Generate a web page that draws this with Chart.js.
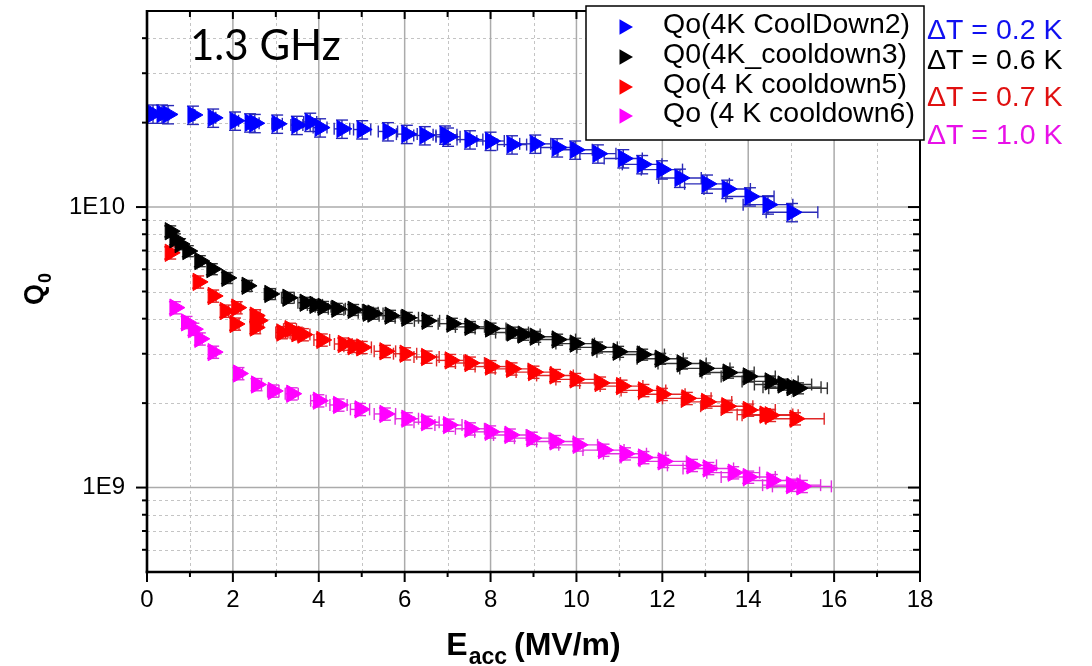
<!DOCTYPE html>
<html>
<head>
<meta charset="utf-8">
<script src="https://cdn.jsdelivr.net/npm/chart.js@4.4.1/dist/chart.umd.min.js"></script>
<style>
  html, body { margin: 0; padding: 0; background: #ffffff; }
  #wrap { width: 1092px; height: 666px; position: relative; }
  canvas { display: block; }
</style>
</head>
<body>
<div id="wrap"><canvas id="c" width="1092" height="666"></canvas></div>
<script>
// ---------------- DATA ----------------
const seriesNames = ['Qo(4K CoolDown2)', 'Q0(4K_cooldown3)', 'Qo(4 K cooldown5)', 'Qo (4 K cooldown6)'];
const deltaTLabels = ['\u0394T = 0.2 K', '\u0394T = 0.6 K', '\u0394T = 0.7 K', '\u0394T = 1.0 K'];
const seriesColors = ['#0000ff', '#000000', '#ff0000', '#ff00ff'];
const deltaTColors = ['#1010f0', '#000000', '#e01010', '#e810e8'];
const errColors = ['#2a2ab8', '#333333', '#e02828', '#e030e0'];

// CoolDown2 (blue)
const cd2E = [0.14, 0.35, 0.49, 1.07, 1.54, 2.05, 2.40, 2.51, 3.03, 3.49, 3.80, 4.03, 4.54, 5.01, 5.61, 6.05, 6.47, 6.94, 7.01, 7.52, 8.00, 8.50, 9.04, 9.55, 9.97, 10.50, 11.09, 11.53, 11.99, 12.41, 13.04, 13.51, 14.04, 14.46, 15.02];
const cd2Q = [2.15e10, 2.15e10, 2.14e10, 2.13e10, 2.08e10, 2.03e10, 2.00e10, 1.99e10, 1.98e10, 1.96e10, 2.01e10, 1.92e10, 1.90e10, 1.89e10, 1.86e10, 1.82e10, 1.80e10, 1.81e10, 1.78e10, 1.74e10, 1.72e10, 1.67e10, 1.68e10, 1.63e10, 1.60e10, 1.55e10, 1.49e10, 1.42e10, 1.36e10, 1.27e10, 1.21e10, 1.16e10, 1.09e10, 1.02e10, 9.58e9];

// cooldown3 (black)
const cd3E = [0.54, 0.65, 0.77, 0.95, 1.23, 1.51, 1.86, 2.33, 2.86, 3.28, 3.68, 3.91, 4.10, 4.42, 4.80, 5.15, 5.26, 5.66, 6.05, 6.52, 7.10, 7.52, 8.00, 8.50, 8.76, 9.04, 9.55, 9.97, 10.48, 10.97, 11.53, 11.95, 12.46, 12.99, 13.53, 14.00, 14.51, 14.81, 15.02, 15.16];
const cd3Q = [8.2e9, 7.68e9, 7.38e9, 6.97e9, 6.42e9, 6.01e9, 5.59e9, 5.24e9, 4.90e9, 4.75e9, 4.56e9, 4.48e9, 4.41e9, 4.34e9, 4.30e9, 4.20e9, 4.17e9, 4.10e9, 4.03e9, 3.93e9, 3.84e9, 3.74e9, 3.69e9, 3.57e9, 3.51e9, 3.45e9, 3.37e9, 3.26e9, 3.16e9, 3.05e9, 2.98e9, 2.88e9, 2.77e9, 2.66e9, 2.57e9, 2.49e9, 2.39e9, 2.33e9, 2.28e9, 2.26e9];

// cooldown5 (red)
const cd5E = [0.54, 1.19, 1.54, 1.82, 2.09, 2.05, 2.52, 2.52, 2.59, 3.14, 3.33, 3.49, 3.63, 4.07, 4.57, 4.80, 5.00, 5.54, 6.01, 6.51, 7.06, 7.52, 8.00, 8.49, 9.00, 9.50, 9.97, 10.55, 11.05, 11.56, 11.99, 12.57, 13.03, 13.50, 14.00, 14.39, 14.51, 15.09];
const cd5Q = [6.87e9, 5.41e9, 4.82e9, 4.26e9, 4.38e9, 3.83e9, 4.10e9, 3.72e9, 3.94e9, 3.57e9, 3.67e9, 3.55e9, 3.51e9, 3.36e9, 3.25e9, 3.19e9, 3.16e9, 3.06e9, 3.00e9, 2.92e9, 2.84e9, 2.78e9, 2.70e9, 2.65e9, 2.58e9, 2.51e9, 2.43e9, 2.36e9, 2.30e9, 2.22e9, 2.15e9, 2.08e9, 2.02e9, 1.95e9, 1.89e9, 1.82e9, 1.81e9, 1.76e9];

// cooldown6 (magenta)
const cd6E = [0.65, 0.92, 1.08, 1.23, 1.54, 2.13, 2.55, 2.94, 3.37, 3.99, 4.46, 4.96, 5.54, 6.05, 6.51, 7.02, 7.52, 7.99, 8.45, 8.96, 9.50, 10.04, 10.63, 11.13, 11.56, 12.02, 12.69, 13.07, 13.65, 14.00, 14.55, 15.01, 15.25];
const cd6Q = [4.38e9, 3.88e9, 3.67e9, 3.39e9, 3.04e9, 2.55e9, 2.33e9, 2.21e9, 2.16e9, 2.04e9, 1.97e9, 1.90e9, 1.83e9, 1.76e9, 1.71e9, 1.67e9, 1.62e9, 1.58e9, 1.54e9, 1.50e9, 1.46e9, 1.42e9, 1.36e9, 1.32e9, 1.28e9, 1.24e9, 1.20e9, 1.17e9, 1.13e9, 1.09e9, 1.06e9, 1.02e9, 1.01e9];

// relative error bar sizes (Q and E) per series
const qErrFrac = [0.075, 0.045, 0.05, 0.05];
const eErrFrac = [0.04, 0.045, 0.045, 0.045];

// axis ticks
const xMajorTicks = [0, 2, 4, 6, 8, 10, 12, 14, 16, 18];
const xMinorTicks = [1, 3, 5, 7, 9, 11, 13, 15, 17];
const yMajorTicks = [1e9, 1e10];
const yTickLabels = ['1E9', '1E10'];
const yMinorTicks = [6e8, 7e8, 8e8, 9e8, 2e9, 3e9, 4e9, 5e9, 6e9, 7e9, 8e9, 9e9, 2e10, 3e10, 4e10];

const annotationText = '1.3 GHz';
const xTitleMain = 'E', xTitleSub = 'acc', xTitleUnit = '(MV/m)';
const yTitleMain = 'Q', yTitleSub = '0';

// ---------------- CHART ----------------
const seriesE = [cd2E, cd3E, cd5E, cd6E];
const seriesQ = [cd2Q, cd3Q, cd5Q, cd6Q];
const SANS = '"Liberation Sans", Arial, sans-serif';

const datasets = seriesNames.map((name, i) => ({
  label: name,
  data: seriesE[i].map((e, j) => ({ x: e, y: seriesQ[i][j] })),
  pointStyle: 'triangle',
  rotation: 90,
  radius: 10,
  hoverRadius: 10,
  backgroundColor: seriesColors[i],
  borderColor: seriesColors[i],
  borderWidth: 1,
  showLine: false
}));

function line(ctx, x1, y1, x2, y2) {
  ctx.beginPath(); ctx.moveTo(x1, y1); ctx.lineTo(x2, y2); ctx.stroke();
}
function triRight(ctx, cx, cy, r, color) {
  ctx.beginPath();
  ctx.moveTo(cx + r, cy);
  ctx.lineTo(cx - r / 2, cy - r * 0.866);
  ctx.lineTo(cx - r / 2, cy + r * 0.866);
  ctx.closePath();
  ctx.fillStyle = color; ctx.fill();
}

const decor = {
  id: 'decor',
  beforeDatasetsDraw(chart) {
    const { ctx, chartArea: a, scales: { x, y } } = chart;
    ctx.save();
    // minor grid (dashed)
    ctx.strokeStyle = '#c4c4c4'; ctx.lineWidth = 1; ctx.setLineDash([3, 3]);
    xMinorTicks.forEach(v => { const p = Math.round(x.getPixelForValue(v)) + 0.5; line(ctx, p, a.top, p, a.bottom); });
    yMinorTicks.forEach(v => { const p = Math.round(y.getPixelForValue(v)) + 0.5; line(ctx, a.left, p, a.right, p); });
    // major grid (solid)
    ctx.setLineDash([]); ctx.strokeStyle = '#ababab'; ctx.lineWidth = 1.5;
    xMajorTicks.forEach(v => { const p = x.getPixelForValue(v); line(ctx, p, a.top, p, a.bottom); });
    yMajorTicks.forEach(v => { const p = y.getPixelForValue(v); line(ctx, a.left, p, a.right, p); });
    // error bars
    ctx.lineWidth = 1.4;
    seriesNames.forEach((n, i) => {
      ctx.strokeStyle = errColors[i];
      seriesE[i].forEach((e, j) => {
        const q = seriesQ[i][j];
        const px = x.getPixelForValue(e), py = y.getPixelForValue(q);
        const yt = y.getPixelForValue(q * (1 + qErrFrac[i])), yb = y.getPixelForValue(q * (1 - qErrFrac[i]));
        const xl = x.getPixelForValue(e * (1 - eErrFrac[i])), xr = x.getPixelForValue(e * (1 + eErrFrac[i]));
        line(ctx, px, yt, px, yb);
        line(ctx, px - 6, yt, px + 6, yt);
        line(ctx, px - 6, yb, px + 6, yb);
        line(ctx, xl, py, xr, py);
        line(ctx, xl, py - 6, xl, py + 6);
        line(ctx, xr, py - 6, xr, py + 6);
      });
    });
    ctx.restore();
  },
  afterDraw(chart) {
    const { ctx, chartArea: a, scales: { x, y } } = chart;
    ctx.save();
    ctx.strokeStyle = '#000'; ctx.setLineDash([]);
    // tick marks
    ctx.lineWidth = 2;
    xMajorTicks.forEach(v => { const p = x.getPixelForValue(v); line(ctx, p, a.bottom, p, a.bottom + 10); line(ctx, p, a.top, p, a.top + 8); });
    xMinorTicks.forEach(v => { const p = x.getPixelForValue(v); line(ctx, p, a.bottom, p, a.bottom + 5); line(ctx, p, a.top, p, a.top + 6); });
    yMajorTicks.forEach(v => { const p = y.getPixelForValue(v); line(ctx, a.left - 11, p, a.left, p); line(ctx, a.right - 12, p, a.right, p); });
    yMinorTicks.forEach(v => { const p = y.getPixelForValue(v); line(ctx, a.left - 5, p, a.left, p); line(ctx, a.right - 7, p, a.right, p); });
    // axis frame
    ctx.lineWidth = 2; line(ctx, a.left, a.top, a.right, a.top); line(ctx, a.right, a.top, a.right, a.bottom);
    ctx.lineWidth = 2.6; line(ctx, a.left, a.top - 1, a.left, a.bottom + 1.3); line(ctx, a.left - 1.3, a.bottom, a.right + 1, a.bottom);

    // annotation
    ctx.fillStyle = '#000'; ctx.textAlign = 'left'; ctx.textBaseline = 'alphabetic';
    ctx.font = '42px Lato, "Open Sans", sans-serif';
    ctx.fillText(annotationText, 190, 60);

    // x title
    ctx.font = 'bold 32px ' + SANS;
    const wE = ctx.measureText(xTitleMain).width, wU = ctx.measureText(xTitleUnit).width;
    ctx.font = 'bold 23px ' + SANS;
    const wS = ctx.measureText(xTitleSub).width;
    const total = wE + 1 + wS + 7 + wU;
    let tx = (a.left + a.right) / 2 - total / 2;
    ctx.font = 'bold 32px ' + SANS; ctx.fillText(xTitleMain, tx, 655); tx += wE + 1;
    ctx.font = 'bold 23px ' + SANS; ctx.fillText(xTitleSub, tx, 664); tx += wS + 7;
    ctx.font = 'bold 32px ' + SANS; ctx.fillText(xTitleUnit, tx, 655);

    // y title
    ctx.save();
    ctx.translate(43, 305); ctx.rotate(-Math.PI / 2);
    ctx.font = 'bold 27px ' + SANS; ctx.fillText(yTitleMain, 0, 0);
    const wQ = ctx.measureText(yTitleMain).width;
    ctx.font = 'bold 18px ' + SANS; ctx.fillText(yTitleSub, wQ + 1, 8);
    ctx.restore();

    // legend box
    const lx = 586, ly = 6, lw = 338, lh = 134;
    ctx.fillStyle = '#fff'; ctx.fillRect(lx, ly, lw, lh);
    ctx.strokeStyle = '#000'; ctx.lineWidth = 1.5; ctx.strokeRect(lx, ly, lw, lh);
    const rowBase = [33, 63, 93, 122];
    ctx.font = '28.5px ' + SANS;
    seriesNames.forEach((n, i) => {
      triRight(ctx, 624, rowBase[i] - 6, 9, seriesColors[i]);
      ctx.fillStyle = '#000'; ctx.fillText(n, 663, rowBase[i]);
    });
    // delta T labels
    const dBase = [39, 69, 106, 144];
    deltaTLabels.forEach((t, i) => {
      ctx.fillStyle = deltaTColors[i]; ctx.fillText(t, 927, dBase[i]);
    });
    ctx.restore();
  }
};

new Chart(document.getElementById('c'), {
  type: 'scatter',
  data: { datasets },
  options: {
    responsive: false,
    animation: false,
    devicePixelRatio: 1,
    layout: { padding: { left: 0, top: 7, right: 172, bottom: 0 } },
    plugins: { legend: { display: false }, tooltip: { enabled: false }, title: { display: false } },
    scales: {
      x: {
        type: 'linear', position: 'bottom', min: 0, max: 18,
        ticks: { stepSize: 2, color: '#000', font: { family: SANS, size: 24 }, padding: 14, maxRotation: 0, autoSkip: false },
        grid: { display: false, drawTicks: false },
        border: { display: false },
        afterFit: (s) => { s.height = 94; s.paddingLeft = 0; s.paddingRight = 0; }
      },
      y: {
        type: 'logarithmic', position: 'left', min: 5e8, max: 5e10,
        afterBuildTicks: (s) => { s.ticks = yMajorTicks.map(v => ({ value: v })); },
        ticks: {
          color: '#000', font: { family: SANS, size: 24 }, padding: 22, autoSkip: false,
          callback: (v) => { const i = yMajorTicks.indexOf(v); return i >= 0 ? yTickLabels[i] : ''; }
        },
        grid: { display: false, drawTicks: false },
        border: { display: false },
        afterFit: (s) => { s.width = 147; s.paddingTop = 0; s.paddingBottom = 0; }
      }
    }
  },
  plugins: [decor]
});
</script>
</body>
</html>
